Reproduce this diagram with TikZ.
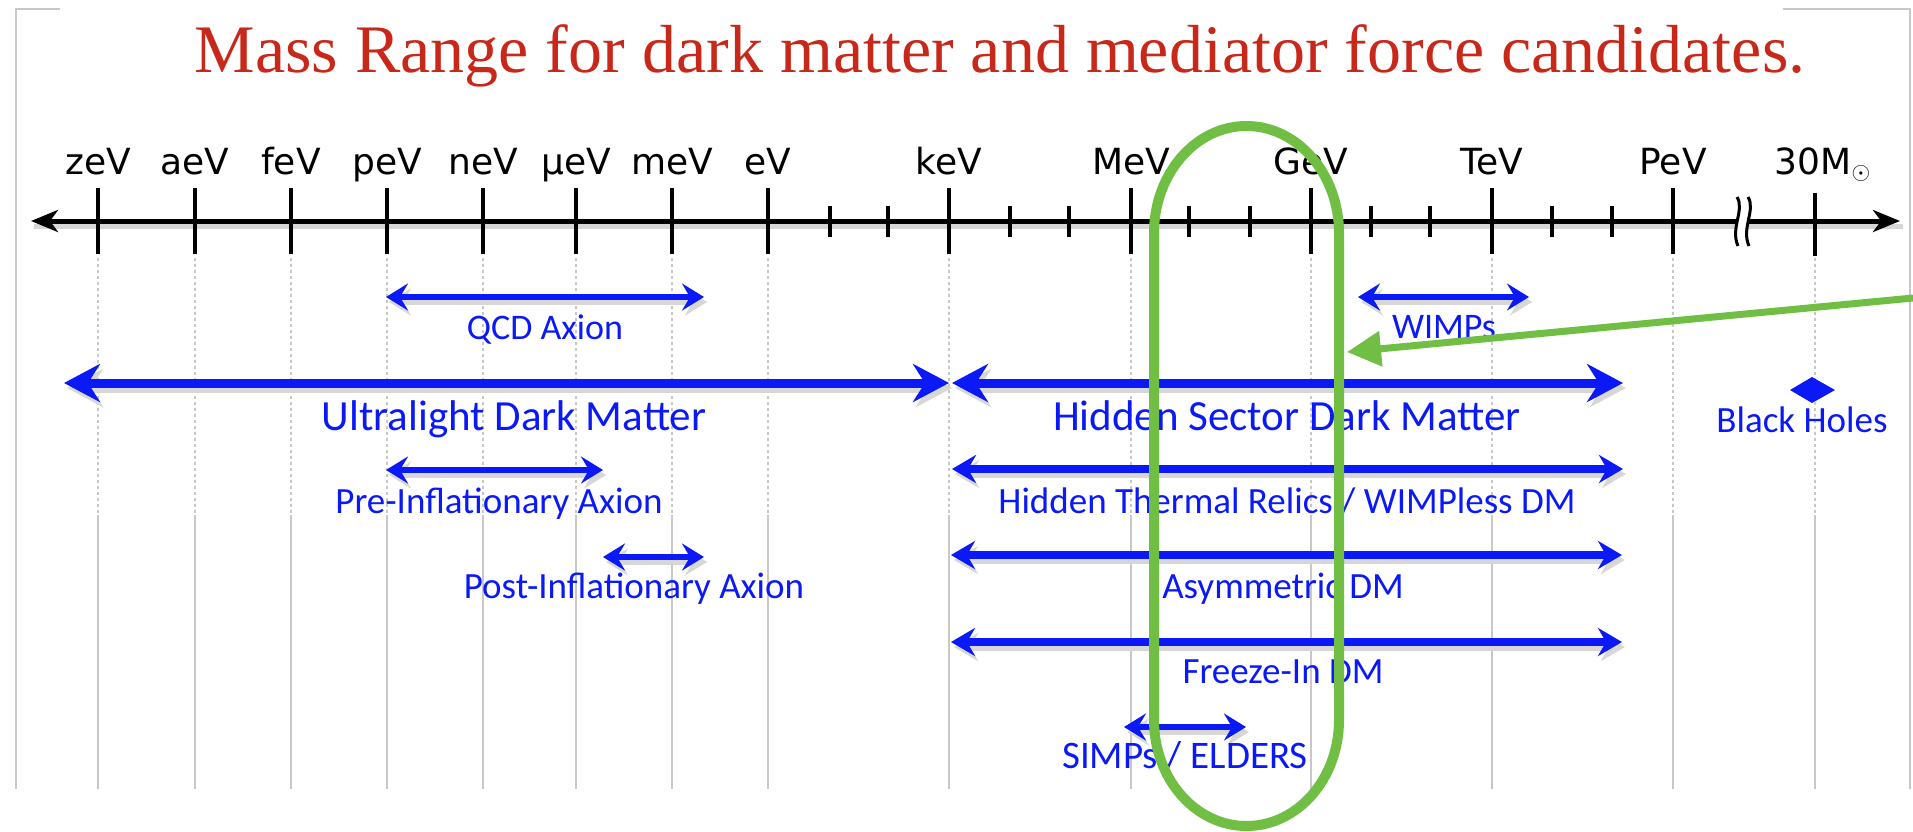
\documentclass[tikz,border=0pt]{standalone}
\usepackage{fontspec}
\setmainfont{Liberation Serif}
\newfontfamily\axisfont{DejaVu Sans}
\newfontfamily\lblfont{Carlito}
\usetikzlibrary{arrows.meta}
\definecolor{titlered}{RGB}{200,40,25}
\definecolor{dmblue}{RGB}{10,25,245}
\definecolor{hlgreen}{RGB}{112,190,68}
\definecolor{gridgray}{RGB}{200,200,200}
\definecolor{shadowgray}{RGB}{215,215,215}
\begin{document}
\begin{tikzpicture}[x=0.5pt,y=-0.5pt,
  axislbl/.style={font=\axisfont\fontsize{18}{20}\selectfont, anchor=base, inner sep=0pt},
  biglbl/.style={font=\lblfont\fontsize{21.5}{24}\selectfont, text=dmblue, anchor=base, inner sep=0pt},
  smlbl/.style={font=\lblfont\fontsize{18.5}{20}\selectfont, text=dmblue, anchor=base, inner sep=0pt},
  bigarr/.style={draw=dmblue, line width=4.5pt, >={Stealth[length=18pt,width=19pt,inset=6pt]}, <->},
  midarr/.style={draw=dmblue, line width=3.75pt, >={Stealth[length=12pt,width=14pt,inset=4pt]}, <->},
  smarr/.style={draw=dmblue, line width=3pt, >={Stealth[length=11pt,width=13.5pt,inset=4pt]}, <->},
  shadow/.style={draw=shadowgray, transform canvas={shift={(1.5pt,-2.5pt)}}},
  gridline/.style={draw=gridgray, line width=0.8pt},
  majtick/.style={draw=black, line width=2pt},
  mintick/.style={draw=black, line width=2pt}
]
\useasboundingbox (0,0) rectangle (1913,831);

% frame
\draw[gridline, line width=1pt] (60,9) -- (16,9) -- (16,789);
\draw[gridline, line width=1pt] (1783,9) -- (1910,9) -- (1910,789);

% title
\node[font=\fontsize{34}{38}\selectfont, text=titlered, anchor=base, inner sep=0pt] (title) at (1000,72) {Mass Range for dark matter and mediator force candidates.};

% grid lines
\foreach \x in {98,195,291,387,483,576,672,768,949,1131,1311,1492,1673,1815} {
  \draw[gridline, dash pattern=on 1.5pt off 1.5pt] (\x,258) -- (\x,515);
  \draw[gridline] (\x,515) -- (\x,789);
}

% axis
\coordinate (axL) at (31,221);
\coordinate (axR) at (1900,221);
\draw[shadow, line width=2.5pt] (axL) -- (axR);
\draw[line width=2.5pt, {Stealth[length=13.5pt,width=11pt,inset=4pt]}-{Stealth[length=13.5pt,width=11pt,inset=4pt]}] (axL) -- (axR);
\foreach \x in {98,195,291,387,483,576,672,768,949,1131,1311,1492,1673} {
  \draw[majtick] (\x,188) -- (\x,254);
}
\draw[majtick] (1815,193) -- (1815,256);
\foreach \x in {830,888,1010,1069,1189,1250,1371,1430,1552,1612} {
  \draw[mintick] (\x,206) -- (\x,237);
}
% break
\fill[white] (1737,197) .. controls (1745,210) and (1730,228) .. (1738,246) -- (1749,246) .. controls (1741,228) and (1756,210) .. (1748,197) -- cycle;
\draw[line width=1.5pt] (1737,197) .. controls (1745,210) and (1730,228) .. (1738,246);
\draw[line width=1.5pt] (1748,197) .. controls (1756,210) and (1741,228) .. (1749,246);

% axis labels
\node[axislbl] (lz) at (98,174) {zeV};
\node[axislbl] (la) at (195,174) {aeV};
\node[axislbl] (lf) at (291,174) {feV};
\node[axislbl] (lp) at (387,174) {peV};
\node[axislbl] (ln) at (483,174) {neV};
\node[axislbl] (lmu) at (576,174) {μeV};
\node[axislbl] (lm) at (672,174) {meV};
\node[axislbl] (le) at (768,174) {eV};
\node[axislbl] (lk) at (949,174) {keV};
\node[axislbl] (lM) at (1131,174) {MeV};
\node[axislbl] (lG) at (1311,174) {GeV};
\node[axislbl] (lT) at (1492,174) {TeV};
\node[axislbl] (lP) at (1673,174) {PeV};
\node[axislbl] (lsun) at (1823,174) {30M$_{\odot}$};

% blue ranges
\coordinate (qcdL) at (386,297);   \coordinate (qcdR) at (704,297);
\coordinate (ulL) at (64,383);     \coordinate (ulR) at (949,383);
\coordinate (hsL) at (952,383);    \coordinate (hsR) at (1623,383);
\coordinate (wiL) at (1358,297);   \coordinate (wiR) at (1529,297);
\coordinate (preL) at (386,470);   \coordinate (preR) at (603,470);
\coordinate (htL) at (952,469);    \coordinate (htR) at (1623,469);
\coordinate (postL) at (603,557);  \coordinate (postR) at (704,557);
\coordinate (asL) at (951,555);    \coordinate (asR) at (1622,555);
\coordinate (frL) at (951,642);    \coordinate (frR) at (1622,642);
\coordinate (siL) at (1124,727);   \coordinate (siR) at (1246,727);

\draw[smarr, shadow] (qcdL) -- (qcdR);
\draw[bigarr, shadow] (ulL) -- (ulR);
\draw[bigarr, shadow] (hsL) -- (hsR);
\draw[smarr, shadow] (wiL) -- (wiR);
\draw[smarr, shadow] (preL) -- (preR);
\draw[midarr, shadow] (htL) -- (htR);
\draw[smarr, shadow] (postL) -- (postR);
\draw[midarr, shadow] (asL) -- (asR);
\draw[midarr, line width=4.2pt, shadow] (frL) -- (frR);
\draw[smarr, shadow] (siL) -- (siR);

\draw[smarr] (qcdL) -- (qcdR);
\draw[bigarr] (ulL) -- (ulR);
\draw[bigarr] (hsL) -- (hsR);
\draw[smarr] (wiL) -- (wiR);
\draw[smarr] (preL) -- (preR);
\draw[midarr] (htL) -- (htR);
\draw[smarr] (postL) -- (postR);
\draw[midarr] (asL) -- (asR);
\draw[midarr, line width=4.2pt] (frL) -- (frR);
\draw[smarr] (siL) -- (siR);

\coordinate (bh) at (1812,390);
\fill[dmblue] (1790,390) -- (1812,377) -- (1835,390) -- (1812,403) -- cycle;

\node[smlbl, font=\lblfont\fontsize{18}{20}\selectfont] (tqcd) at (545,339) {QCD Axion};
\node[biglbl] (tul) at (514,430) {Ultralight Dark Matter};
\node[smlbl, font=\lblfont\fontsize{18}{20}\selectfont] (twi) at (1444,338) {WIMPs};
\node[biglbl] (ths) at (1287,430) {Hidden Sector Dark Matter};
\node[smlbl, font=\lblfont\fontsize{18.5}{20}\selectfont] (tbh) at (1802,432) {Black Holes};
\node[smlbl] (tpre) at (499,513) {Pre-Inflationary Axion};
\node[smlbl] (tht) at (1287,513) {Hidden Thermal Relics / WIMPless DM};
\node[smlbl] (tpost) at (634,598) {Post-Inflationary Axion};
\node[smlbl] (tas) at (1283,598) {Asymmetric DM};
\node[smlbl] (tfr) at (1283,683) {Freeze-In DM};
\node[smlbl, font=\lblfont\fontsize{19.5}{20}\selectfont] (tsi) at (1185,768) {SIMPs / ELDERS};

% green highlight
\draw[hlgreen, line width=5pt] (1154,233) .. controls (1154,174) and (1195.5,126) .. (1246.5,126)
  .. controls (1297.5,126) and (1339,174) .. (1339,233) -- (1339,720)
  .. controls (1339,779) and (1297.5,826) .. (1246.5,826)
  .. controls (1195.5,826) and (1154,779) .. (1154,720) -- cycle;
\coordinate (gstart) at (1913,298);
\coordinate (gtip) at (1347,352);
\draw[hlgreen, line width=3.5pt, -{Triangle[length=17pt,width=17pt]}] (gstart) -- (gtip);
\end{tikzpicture}
\end{document}
